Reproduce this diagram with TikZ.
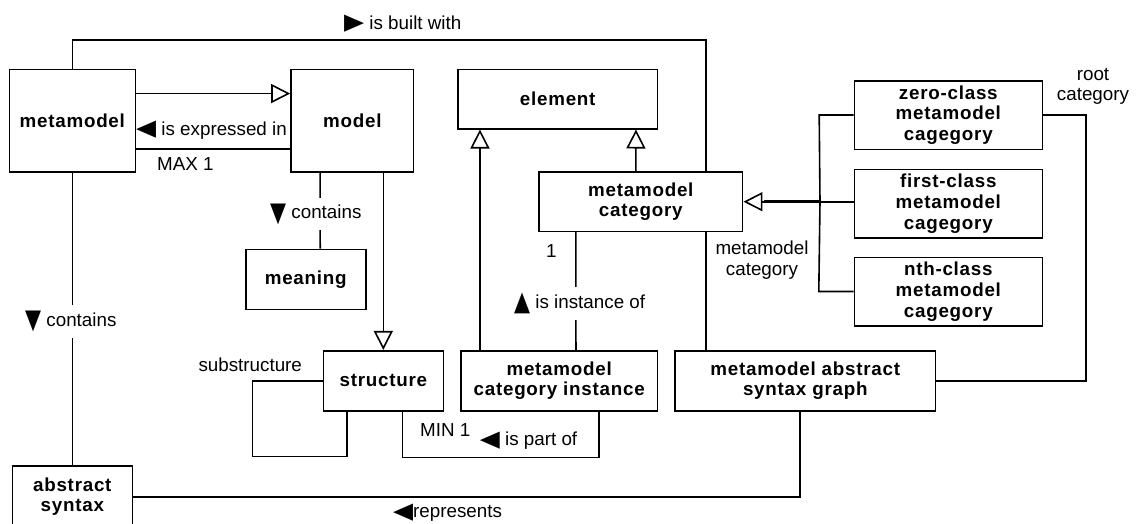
\documentclass[tikz,border=0pt]{standalone}
\usepackage{fontspec}
\usepackage{graphicx}
\setmainfont{Liberation Sans}
\newfontfamily\symf{DejaVu Sans}
\usetikzlibrary{arrows.meta,calc}
\newcommand\boxfnt{\fontsize{18.8}{20.8}\selectfont\bfseries\addfontfeature{LetterSpace=4}}
\newcommand\lblfnt{\fontsize{18.8}{20.8}\selectfont}
\newcommand\trih[1]{\raisebox{-0.5pt}{\resizebox{20pt}{14.5pt}{\symf #1}}}
\newcommand\triv[1]{\raisebox{-2.5pt}{\resizebox{16pt}{17.5pt}{\symf #1}}}
\begin{document}
\begin{tikzpicture}[x=1pt,y=-1pt,
  box/.style={draw, line width=1.6pt, align=center, inner sep=0pt, font=\boxfnt},
  lbl/.style={inner sep=0pt, anchor=base west, font=\lblfnt},
  cutlbl/.style={lbl, fill=white, inner xsep=2pt, inner ysep=6pt},
  clbl/.style={inner sep=0pt, align=center, font=\lblfnt},
  gen/.style={-{Triangle[open,length=19pt,width=19pt]}, line width=1.6pt},
  conn/.style={line width=1.6pt}]
\fill[white] (0,0) rectangle (1138,523);
\useasboundingbox (0,0) rectangle (1138,523);

% boxes
\node[box, minimum width=126pt, minimum height=102.7pt] (mm) at (72.3,120.7) {metamodel};
\node[box, minimum width=122.7pt, minimum height=102.7pt] (model) at (352.3,120.7) {model};
\node[box, minimum width=199.3pt, minimum height=59.4pt] (elem) at (557.7,99) {element};
\node[box, minimum width=203.7pt, minimum height=59.3pt] (mcat) at (640.8,201.7) {metamodel\\category};
\node[box, minimum width=188pt, minimum height=68.6pt] (zero) at (948.3,115) {zero-class\\metamodel\\cagegory};
\node[box, minimum width=188pt, minimum height=68.4pt] (first) at (948.3,203.5) {first-class\\metamodel\\cagegory};
\node[box, minimum width=188pt, minimum height=68.4pt] (nth) at (948.3,291.5) {nth-class\\metamodel\\cagegory};
\node[box, minimum width=120pt, minimum height=60pt] (meaning) at (305.7,279.3) {meaning};
\node[box, minimum width=120pt, minimum height=60pt] (struct) at (383.3,380.7) {structure};
\node[box, minimum width=196.3pt, minimum height=60pt] (mci) at (559.2,380.7) {metamodel\\category instance};
\node[box, minimum width=260.7pt, minimum height=60pt] (msg) at (805.3,380.7) {metamodel abstract\\syntax graph};
\node[box, minimum width=120pt, minimum height=62pt] (abs) at (72.3,496.7) {abstract\\syntax};

% connectors
\draw[gen] ($(mm.north east)+(0,25)$) -- ($(model.north west)+(0,25)$);
\draw[conn] ($(mm.south east)+(0,-24)$) -- ($(model.south west)+(0,-24)$);
\draw[conn] (mm.north) -- ++(0,-28.6) -| ($(mcat.north west)+(167.7,0)$);
\draw[conn] ($(msg.north west)+(31.7,0)$) -- ($(mcat.south west)+(167.7,0)$);
\draw[conn] ($(model.south west)+(30,0)$) -- ($(meaning.north west)+(75.3,0)$);
\draw[gen] (struct.north |- model.south) -- (struct.north);
\draw[gen] ($(mci.north west)+(19.7,0)$) -- ($(elem.south west)+(22.7,0)$);
\draw[gen] ($(mcat.north west)+(97.7,0)$) -- ($(elem.south west)+(178.7,0)$);
\draw[conn] ($(mci.north west)+(115.7,0)$) -- ($(mcat.south west)+(37.7,0)$);
\coordinate (j) at (820,201.7);
\draw[conn] (zero.west) -- ++(-34.3,0) -- (j);
\draw[conn] (nth.west) -- ++(-34.7,0) -- (j);
\draw[gen] (first.west |- mcat.east) -- (mcat.east);
\draw[line width=2.6pt] (j) -- ($(mcat.east)+(21,0)$);
\draw[conn] (zero.east) -- ++(42.7,0) |- (msg.east);
\draw[conn] (mm.south) -- (abs.north);
\draw[conn] (struct.west) -- ++(-70,0) -- ++(0,75.7) -| ($(struct.south west)+(24.4,0)$);
\draw[conn] ($(struct.south west)+(80,0)$) -- ++(0,46) -| ($(mci.south west)+(139,0)$);
\draw[conn] (abs.east) -| ($(msg.south west)+(126,0)$);

% labels
\node[lbl] (lbuilt) at (344,29) {\trih{▶} is built with};
\node[lbl] (lexpr) at (136,135) {\trih{◀} is expressed in};
\node[lbl] (lmax) at (157,170) {MAX 1};
\node[cutlbl] (lcont1) at (268,218.5) {\triv{▼} contains};
\node[cutlbl] (lcont2) at (23,326.2) {\triv{▼} contains};
\node[cutlbl] (linst) at (512,308.2) {\triv{▲} is instance of};
\node[lbl] (lone) at (546,257) {1};
\node[clbl] (lmcat) at (762,260) {metamodel\\category};
\node[clbl] (lroot) at (1093,86.4) {root\\category};
\node[lbl] (lsub) at (198.3,371) {substructure};
\node[lbl] (lmin) at (420,436) {MIN 1};
\node[lbl] (lpart) at (479.7,445.5) {\trih{◀} is part of};
\node[lbl] (lrep) at (393,517.8) {\trih{◀}represents};
\end{tikzpicture}
\end{document}
